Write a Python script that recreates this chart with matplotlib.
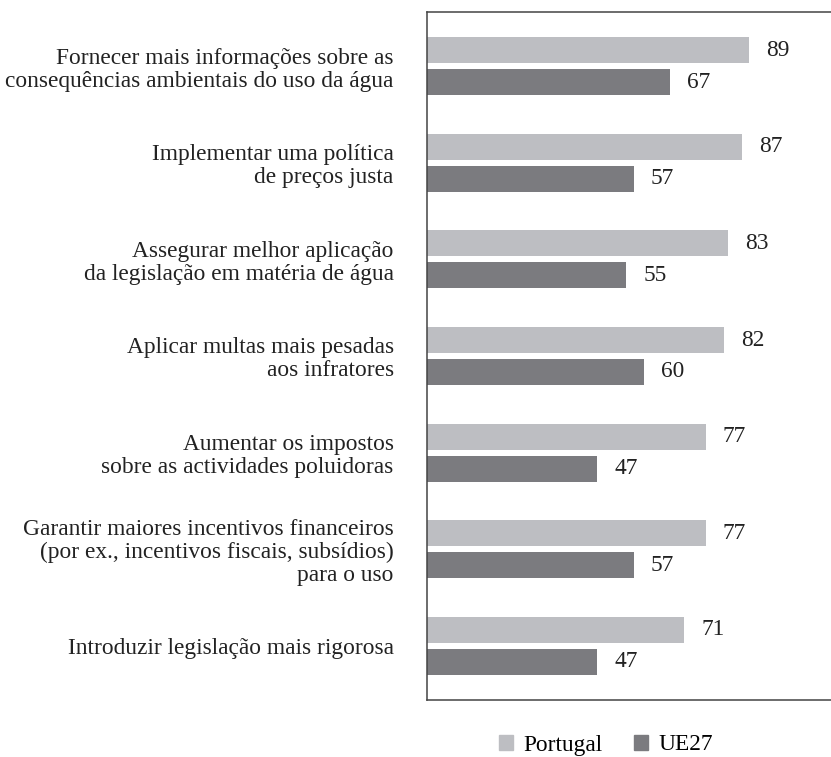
import matplotlib
matplotlib.use("Agg")
import matplotlib.pyplot as plt
from matplotlib.patches import Patch
import numpy as np

categories = [
    "Fornecer mais informações sobre as\nconsequências ambientais do uso da água",
    "Implementar uma política\nde preços justa",
    "Assegurar melhor aplicação\nda legislação em matéria de água",
    "Aplicar multas mais pesadas\naos infratores",
    "Aumentar os impostos\nsobre as actividades poluidoras",
    "Garantir maiores incentivos financeiros\n(por ex., incentivos fiscais, subsídios)\npara o uso",
    "Introduzir legislação mais rigorosa",
]
portugal = [89, 87, 83, 82, 77, 77, 71]
ue27 = [67, 57, 55, 60, 47, 57, 47]
series_names = ["Portugal", "UE27"]

c_pt = "#bdbec2"
c_ue = "#7b7b7f"
fs = 16.8
plt.rcParams['font.family'] = ['Liberation Serif', 'DejaVu Serif']

fig = plt.figure(figsize=(8.31, 7.57), dpi=100)
ax = fig.add_axes([427/831, 57/757, 404/831, 688/757])

y = np.arange(len(categories))
h = 0.27
off = 0.165
b1 = ax.barh(y - off, portugal, height=h, color=c_pt)
b2 = ax.barh(y + off, ue27, height=h, color=c_ue)

for bars, vals in ((b1, portugal), (b2, ue27)):
    for rect, v in zip(bars, vals):
        ax.annotate(str(v), (rect.get_width(), rect.get_y() + rect.get_height()/2),
                    xytext=(17, 0), textcoords="offset pixels",
                    ha="left", va="center", fontsize=fs, color="#222222")

ax.set_xlim(0, 111.5)
ax.set_ylim(len(categories) - 0.44, -0.56)
ax.set_yticks(y)
ax.set_yticklabels(categories, fontsize=fs, color="#222222", linespacing=1.12)
ax.tick_params(axis='y', length=0, pad=24)
ax.set_xticks([])
for s in ("left", "top", "bottom"):
    ax.spines[s].set_color("#444444")
    ax.spines[s].set_linewidth(1.1)
ax.spines["right"].set_visible(False)

handles = [Patch(color=c_pt), Patch(color=c_ue)]
fig.legend(handles, series_names, loc="center", bbox_to_anchor=(606/831, 1 - 745/757),
           ncol=2, frameon=False, fontsize=fs, handlelength=0.6, handleheight=0.6,
           handletextpad=0.45, columnspacing=1.35)

fig.savefig("out.png", dpi=100)
